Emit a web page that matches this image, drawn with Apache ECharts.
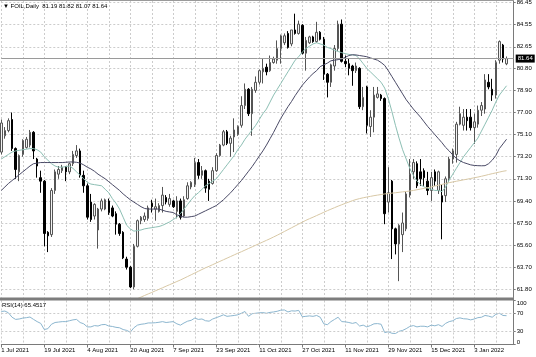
<!DOCTYPE html>
<html><head><meta charset="utf-8">
<script src="https://cdn.jsdelivr.net/npm/echarts@6/dist/echarts.min.js"></script>
<style>html,body{margin:0;padding:0;background:#fff}#c{width:536px;height:357px}</style>
</head><body><div id="c"></div>
<script>
// ---- data ----
const openP = [73.6,75.0,75.45,76.4,73.9,71.9,73.4,74.0,74.2,75.3,
73.0,71.4,71.1,66.7,66.5,70.3,71.7,72.0,72.3,71.9,
72.6,73.3,73.7,71.6,70.7,69.3,68.1,66.9,68.7,68.7,
69.4,68.8,68.3,67.4,66.7,64.4,63.7,62.0,65.5,67.7,
67.8,67.9,69.2,68.7,68.5,69.0,69.7,69.1,69.4,68.5,
69.4,68.1,69.6,70.6,70.8,72.7,71.6,72.0,71.1,70.9,
72.0,73.3,74.2,75.35,74.35,74.9,75.1,75.9,77.6,79.0,
76.9,78.9,79.6,80.5,80.9,80.6,81.3,81.5,82.5,83.0,
83.8,82.9,84.1,83.8,84.5,82.1,83.0,83.5,83.1,83.9,
83.3,80.3,79.6,81.0,82.5,84.6,81.4,81.2,81.0,80.6,
80.8,77.5,79.2,75.8,76.6,78.3,78.5,78.2,69.3,71.1,
67.0,65.7,66.5,67.0,69.9,71.9,72.6,71.9,72.0,71.1,
70.3,71.9,70.3,69.85,69.85,71.3,73.0,73.4,76.0,75.9,
76.6,76.6,75.7,76.0,77.2,77.3,79.6,79.0,78.5,81.5,
82.8,81.19];
const closeP = [76.1,75.45,76.3,73.9,72.1,73.3,74.6,74.7,75.3,73.7,
72.4,71.1,66.6,66.4,70.3,71.9,72.1,72.3,71.9,72.6,
73.4,73.7,71.6,70.7,68.0,67.8,69.1,68.7,69.4,69.5,
68.4,68.1,67.4,66.6,64.5,63.7,62.0,65.5,67.7,68.0,
68.1,68.8,68.9,68.9,69.0,69.9,69.3,69.6,68.9,69.4,
68.0,69.5,70.7,71.0,72.7,71.6,72.0,70.5,70.4,72.0,
73.3,74.2,75.35,74.35,74.8,75.5,75.8,77.6,79.0,76.9,
79.0,79.6,80.6,80.8,80.5,81.3,81.6,82.5,83.6,83.6,
82.6,84.1,83.8,84.6,82.1,83.2,83.5,83.1,83.9,83.3,
80.3,79.6,81.1,82.5,84.6,81.4,81.2,80.8,80.6,81.0,
77.5,78.3,75.9,76.6,78.5,78.6,78.2,68.3,70.1,67.0,
65.7,67.3,67.5,70.0,71.7,72.7,70.7,71.3,71.4,70.3,
71.4,71.1,71.9,69.3,71.3,73.0,73.7,76.0,76.9,76.6,
76.3,75.7,76.2,77.2,77.6,79.8,79.2,78.5,81.3,83.1,
81.6,81.64];
const lowP = [73.4,74.75,75.3,73.7,71.3,71.1,73.2,73.9,74.0,73.0,
71.4,70.1,65.5,65.0,66.3,70.0,71.3,71.8,71.1,71.7,
72.4,73.1,71.4,70.1,67.8,67.6,67.8,65.3,68.5,68.6,
68.2,68.0,66.5,66.4,64.4,63.5,61.9,61.8,65.4,67.4,
67.6,67.7,68.4,67.7,68.4,68.4,69.1,68.9,68.8,67.9,
67.8,68.0,69.5,70.4,70.6,71.3,71.3,70.1,69.4,70.8,
71.9,73.2,74.1,74.2,73.2,73.6,75.0,75.7,77.3,76.7,
75.0,78.7,79.4,79.5,80.2,80.5,81.2,81.2,81.2,82.8,
82.5,82.7,83.7,83.7,82.0,80.6,82.9,83.0,83.0,83.2,
79.8,78.3,79.2,80.6,82.3,81.3,80.9,80.2,79.3,80.4,
77.3,77.2,75.2,74.9,75.3,78.2,78.0,67.4,68.4,64.4,
64.8,62.5,65.0,66.8,69.7,71.3,70.5,70.7,70.7,69.9,
69.4,70.7,70.0,66.1,69.3,71.0,72.6,72.7,75.9,75.45,
75.45,75.45,74.3,75.7,76.7,76.9,79.0,78.0,78.2,81.2,
81.3,81.07];
const highP = [76.4,75.75,76.5,77.0,74.0,73.4,74.7,74.9,75.5,75.4,
73.1,72.0,71.2,66.8,70.5,72.1,72.4,72.5,72.4,72.7,
73.7,74.2,73.9,72.0,70.9,70.0,69.2,68.8,69.6,69.6,
69.6,69.0,68.5,67.5,66.8,64.6,63.8,65.7,67.8,68.1,
68.4,69.0,69.5,69.6,69.2,70.6,69.9,70.0,69.5,69.8,
69.6,69.8,71.0,71.1,73.1,73.0,72.4,72.1,71.3,72.3,
73.5,74.3,75.5,75.5,75.0,76.5,75.9,78.4,79.5,79.1,
79.2,80.1,80.7,81.6,81.2,81.9,81.8,83.2,83.7,83.8,
84.0,84.1,85.5,84.9,84.6,83.5,83.6,83.6,84.8,84.0,
83.5,80.4,81.2,82.8,84.9,85.0,81.9,81.6,81.1,81.3,
80.9,79.2,79.3,77.2,79.2,79.2,78.6,78.3,72.3,71.2,
67.1,67.4,68.4,70.2,73.0,73.0,72.8,73.0,72.2,71.9,
71.9,72.1,72.0,70.8,71.5,73.2,73.9,76.2,77.5,77.3,
77.3,77.3,76.9,77.6,77.9,80.3,80.3,79.9,81.5,83.2,
82.9,81.82];
const maFast = [73.0,73.2,73.4,73.6,73.7,73.75,73.8,73.85,73.9,73.9,
73.8,73.6,73.2,72.9,72.6,72.4,72.3,72.3,72.35,72.4,
72.2,71.9,71.6,71.3,71.0,70.85,70.8,70.75,70.7,70.4,
70.1,69.6,69.2,68.7,68.0,67.3,67.0,66.8,66.85,66.9,
67.0,67.05,67.1,67.15,67.2,67.3,67.45,67.6,67.8,68.0,
68.3,68.7,69.1,69.5,69.85,70.1,70.4,70.7,70.9,71.1,
71.3,71.7,72.1,72.5,72.9,73.3,73.8,74.2,74.7,75.1,
75.5,75.9,76.4,76.9,77.3,77.9,78.5,79.0,79.5,80.0,
80.5,81.0,81.5,81.8,82.2,82.5,82.7,82.9,83.0,82.9,
82.8,82.6,82.5,82.35,82.25,82.15,82.06,82.0,81.95,81.9,
81.6,81.2,80.8,80.5,80.2,79.9,79.6,79.1,78.2,77.1,
75.9,74.8,73.8,73.0,72.2,71.6,71.1,70.8,70.6,70.5,
70.4,70.3,70.3,70.2,70.6,71.2,71.7,72.2,72.7,73.2,
73.6,74.0,74.4,74.8,75.4,76.0,76.6,77.2,77.9,78.5,
78.9,79.3];
const maSlow = [70.3,70.6,70.9,71.15,71.4,71.65,71.9,72.15,72.4,72.6,
72.65,72.7,72.7,72.7,72.7,72.7,72.7,72.7,72.72,72.75,
72.75,72.72,72.65,72.5,72.3,72.15,71.95,71.7,71.5,71.3,
71.05,70.8,70.55,70.3,70.0,69.75,69.5,69.3,69.1,68.9,
68.75,68.7,68.7,68.7,68.7,68.6,68.5,68.45,68.4,68.2,
68.1,68.0,68.0,68.05,68.1,68.25,68.4,68.55,68.7,68.85,
69.0,69.25,69.5,69.8,70.1,70.45,70.8,71.15,71.55,71.95,
72.35,72.8,73.25,73.7,74.2,74.75,75.3,75.9,76.5,77.0,
77.5,77.95,78.45,78.9,79.35,79.7,80.05,80.35,80.6,80.95,
81.1,81.25,81.45,81.5,81.55,81.6,81.75,81.9,81.97,81.95,
81.9,81.85,81.8,81.7,81.6,81.5,81.3,81.05,80.6,80.1,
79.6,79.1,78.6,78.1,77.7,77.3,76.95,76.6,76.2,75.8,
75.45,75.1,74.75,74.4,74.0,73.7,73.35,73.05,72.85,72.7,
72.6,72.5,72.45,72.43,72.42,72.43,72.6,72.9,73.3,73.9,
74.3,74.7];
const ma200Start = 38; // first bar where the long average enters the pane
const ma200 = [61.0,61.13,61.27,61.4,61.53,61.67,61.8,61.93,62.07,62.2,62.33,62.47,
62.6,62.75,62.9,63.05,63.2,63.35,63.5,63.65,63.78,63.92,
64.06,64.2,64.34,64.48,64.62,64.76,64.9,65.03,65.17,65.31,
65.45,65.59,65.73,65.87,66.01,66.15,66.3,66.45,66.61,66.77,
66.93,67.09,67.25,67.41,67.57,67.73,67.87,68.0,68.14,68.28,
68.42,68.56,68.69,68.82,68.95,69.07,69.19,69.3,69.42,69.52,
69.6,69.67,69.73,69.79,69.85,69.9,69.95,70.0,70.03,70.07,
70.1,70.14,70.18,70.21,70.25,70.3,70.36,70.42,70.48,70.54,
70.6,70.68,70.75,70.82,70.9,70.97,71.03,71.09,71.15,71.21,
71.27,71.33,71.39,71.45,71.52,71.59,71.67,71.74,71.81,71.88,
71.95,72.0];
const rsi = [75,76,72,62,57,58,60,61,62.5,57,
52,48,34,36,46,50,51,52,52,54,
56,57,50,47,40,40,43,42,45,45.5,
42,41,39,38,34,32,28,38,44,46,
47,49,49,49.5,50.5,52,50,51,52,47,
44,49,53,55,60,57,58,54,53,58,
61,64,67.5,64,65,66,67.5,71,75,64,
70,71,72,72.5,71,73,74,75.5,78,78.5,
74,76.5,76,77.5,63,64,65,64,66,62,
47,45,52,57,62,52,51.5,50,48,50,
42,44,40,43,47,47.5,46,27,29,25.5,
25,30,32,36,41,43,40,41.5,41.5,40,
44,42.5,45,41,48,52,54,59,60.5,58.5,
58,56,58,61,62,66,64.5,62,68.5,71,
66,65.45];
const xTickLabels = ['1 Jul 2021','19 Jul 2021','4 Aug 2021','20 Aug 2021','7 Sep 2021','23 Sep 2021',
  '11 Oct 2021','27 Oct 2021','11 Nov 2021','29 Nov 2021','15 Dec 2021','3 Jan 2022'];
const priceTicks = [61.80,63.70,65.60,67.50,69.40,71.30,73.20,75.10,77.00,78.90,80.80,82.65,84.55,86.45];
const rsiTicks = [0,30,70,100];
const rsiLevels = [30,70];
const lastPrice = 81.64;
const titleText = '\u25BC FOIL,Daily  81.19 81.82 81.07 81.64';
const rsiTitle = 'RSI(14) 65.4517';
const emptySlots = 2; // chart shift on the right

// ---- build ----
const nBars = openP.length;
const cats = [];
{ let d = new Date(Date.UTC(2021, 6, 1));
  while (cats.length < nBars + emptySlots) {
    const wd = d.getUTCDay();
    if (wd !== 0 && wd !== 6) cats.push(d.toISOString().slice(0, 10));
    d = new Date(d.getTime() + 86400000);
  } }
const candles = openP.map((o, i) => [o, closeP[i], lowP[i], highP[i]]);
const ma200Data = cats.map((c, i) => (i >= ma200Start && i - ma200Start < ma200.length) ? ma200[i - ma200Start] : null);

const FONT = 'Liberation Sans, Arial, sans-serif';
const gridLine = { show: true, lineStyle: { color: '#cccccc', width: 1, type: [2, 2] } };
const L = 1.3, W = 512.4;

const chart = echarts.init(document.getElementById('c'), null, { renderer: 'canvas' });
chart.setOption({
  animation: false,
  backgroundColor: '#ffffff',
  textStyle: { fontFamily: FONT },
  grid: [
    { left: L, top: 1, width: W, height: 296.5, outerBoundsMode: 'none' },
    { left: L, top: 300.5, width: W, height: 44, outerBoundsMode: 'none' }
  ],
  xAxis: [
    { type: 'category', gridIndex: 0, data: cats, boundaryGap: false,
      axisLine: { show: false }, axisTick: { show: false }, axisLabel: { show: false },
      splitLine: Object.assign({ interval: 5 }, gridLine) },
    { type: 'category', gridIndex: 1, data: cats, boundaryGap: false,
      axisLine: { show: true, lineStyle: { color: '#7a7a7a', width: 1 } },
      axisTick: { show: true, interval: 11, length: 3, lineStyle: { color: '#7a7a7a' } },
      axisLabel: { show: true, interval: 11, align: 'left', margin: 3, fontSize: 6, color: '#000',
        fontFamily: FONT, hideOverlap: false,
        formatter: (v, idx) => (idx % 12 === 0 && xTickLabels[idx / 12]) ? xTickLabels[idx / 12] : '' },
      splitLine: Object.assign({ interval: 5 }, gridLine) }
  ],
  yAxis: [
    { type: 'value', gridIndex: 0, position: 'right', min: 61.095, max: 86.59, scale: true,
      axisLine: { show: true, lineStyle: { color: '#7a7a7a', width: 1 } },
      axisTick: { show: true, length: 2, customValues: priceTicks, lineStyle: { color: '#7a7a7a' } },
      axisLabel: { show: true, customValues: priceTicks, margin: 3, fontSize: 6, color: '#000', fontFamily: FONT,
        formatter: v => v.toFixed(2) },
      splitLine: gridLine },
    { type: 'value', gridIndex: 1, position: 'right', min: 0, max: 100,
      axisLine: { show: true, lineStyle: { color: '#7a7a7a', width: 1 } },
      axisTick: { show: true, length: 2, customValues: rsiTicks, lineStyle: { color: '#7a7a7a' } },
      axisLabel: { show: true, customValues: rsiTicks, margin: 3, fontSize: 6, color: '#000', fontFamily: FONT,
        formatter: v => v === 100 ? '{t|100}' : (v === 0 ? '{b|0}' : String(v)),
        rich: { t: { fontSize: 6, padding: [5, 0, 0, 0] }, b: { fontSize: 6, padding: [0, 0, 5, 0] } } },
      splitLine: { show: false } }
  ],
  series: [
    { type: 'candlestick', xAxisIndex: 0, yAxisIndex: 0, data: candles, barWidth: 2, clip: false,
      itemStyle: { color: '#f2f2f2', color0: '#000000', borderColor: '#555555', borderColor0: '#000000', borderWidth: 1 },
      markLine: { silent: true, symbol: 'none', animation: false,
        lineStyle: { color: '#9a9a9a', width: 1, type: 'solid' },
        label: { show: true, position: 'end', distance: 2, formatter: lastPrice.toFixed(2), fontSize: 6,
          color: '#fff', backgroundColor: '#000', padding: [1, 2, 1, 2], fontFamily: FONT },
        data: [{ yAxis: lastPrice }] } },
    { type: 'line', xAxisIndex: 0, yAxisIndex: 0, data: maFast, symbol: 'none', smooth: false,
      lineStyle: { color: '#8dbfb4', width: 1 } },
    { type: 'line', xAxisIndex: 0, yAxisIndex: 0, data: maSlow, symbol: 'none',
      lineStyle: { color: '#4a4a66', width: 1 } },
    { type: 'line', xAxisIndex: 0, yAxisIndex: 0, data: ma200Data, symbol: 'none', connectNulls: false,
      lineStyle: { color: '#d8c8a6', width: 1 } },
    { type: 'line', xAxisIndex: 1, yAxisIndex: 1, data: rsi, symbol: 'none',
      lineStyle: { color: '#8cb6cf', width: 1 },
      markLine: { silent: true, symbol: 'none', animation: false, label: { show: false },
        lineStyle: { color: '#cccccc', width: 1, type: [2, 2] },
        data: rsiLevels.map(v => ({ yAxis: v })) } }
  ],
  graphic: [
    { type: 'rect', shape: { x: 0, y: 297.5, width: 514, height: 3 }, style: { fill: '#7d7d7d' }, z: 10 },
    { type: 'rect', shape: { x: 0, y: 0, width: 514, height: 1 }, style: { fill: '#9a9a9a' }, z: 10 },
    { type: 'text', left: 3, top: 3, z: 11,
      style: { text: titleText, fontSize: 6, fill: '#000', fontFamily: FONT } },
    { type: 'text', left: 2, top: 302, z: 11,
      style: { text: rsiTitle, fontSize: 6, fill: '#000', fontFamily: FONT } }
  ]
});
</script>
</body></html>
